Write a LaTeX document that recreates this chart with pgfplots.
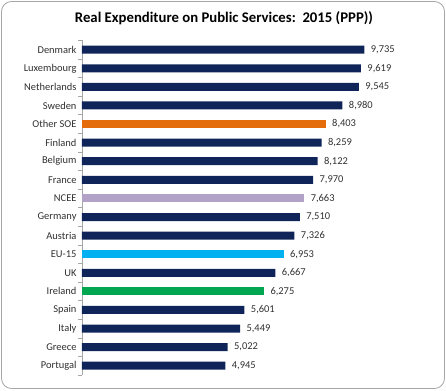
\documentclass[border=0pt]{standalone}
\usepackage{fontspec}
\setmainfont{Carlito}
\usepackage{pgfplots}
\pgfplotsset{compat=1.18}
\definecolor{navy}{HTML}{0F2559}
\definecolor{sorange}{HTML}{E46C0A}
\definecolor{lav}{HTML}{B3A2C7}
\definecolor{lblue}{HTML}{00B0F0}
\definecolor{green}{HTML}{00A650}
\definecolor{txt}{HTML}{303030}
\begin{document}
\begin{tikzpicture}[x=1bp,y=1bp]
\useasboundingbox (-82,-15) rectangle (364,375);
\draw[gray!70, line width=0.8bp, rounded corners=10bp] (-80.5,-13.5) rectangle (362.5,373.5);
\node[font=\fontsize{14.8}{16}\selectfont\bfseries, text=black] at (142,357) {Real Expenditure on Public Services:\ \ 2015 (PPP))};
\begin{axis}[
  at={(0,0)}, anchor=south west,
  scale only axis, width=348bp, height=334.6bp,
  xbar, bar width=8bp, bar shift=0pt,
  xmin=0, xmax=12000,
  ymin=-0.5, ymax=17.5, y dir=reverse,
  axis x line=none, axis y line*=left,
  y axis line style={gray!70, line width=0.6bp},
  ytick={0,...,17},
  yticklabels={Denmark,Luxembourg,Netherlands,Sweden,Other SOE,Finland,Belgium,France,NCEE,Germany,Austria,EU-15,UK,Ireland,Spain,Italy,Greece,Portugal},
  major tick length=0pt,
  minor ytick={-0.5,0.5,...,17.5},
  minor tick length=4bp,
  tick align=outside,
  minor tick style={gray!70, line width=0.6bp},
  yticklabel style={font=\fontsize{10.5}{12}\selectfont, text=txt, xshift=-2bp},
  nodes near coords,
  nodes near coords style={font=\fontsize{10.5}{12}\selectfont, text=txt, /pgf/number format/1000 sep={,}, /pgf/number format/assume math mode=true, xshift=3bp},
  /pgf/number format/1000 sep={,},
  /pgf/number format/assume math mode=true,
  clip=false,
]
\addplot[fill=navy, draw=none] coordinates {(9735,0) (9619,1) (9545,2) (8980,3) (8259,5) (8122,6) (7970,7) (7510,9) (7326,10) (6667,12) (5601,14) (5449,15) (5022,16) (4945,17)};
\addplot[fill=sorange, draw=none] coordinates {(8403,4)};
\addplot[fill=lav, draw=none] coordinates {(7663,8)};
\addplot[fill=lblue, draw=none] coordinates {(6953,11)};
\addplot[fill=green, draw=none] coordinates {(6275,13)};
\end{axis}
\end{tikzpicture}
\end{document}
